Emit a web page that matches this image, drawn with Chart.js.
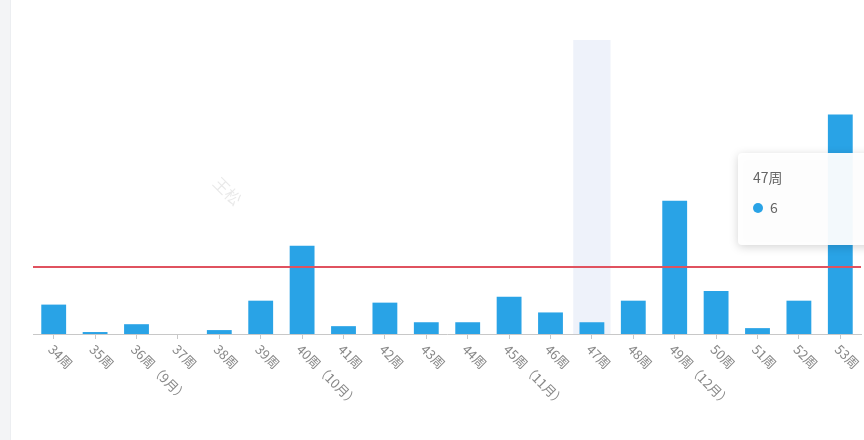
<!DOCTYPE html>
<html>
<head>
<meta charset="utf-8">
<script src="https://cdn.jsdelivr.net/npm/chart.js@4.4.0/dist/chart.umd.min.js"></script>
<style>
  html, body { margin: 0; padding: 0; background: #fff; }
  #wrap { position: relative; width: 864px; height: 440px; overflow: hidden; }
  #side { position: absolute; left: 0; top: 0; width: 10px; height: 440px; background: #f3f4f6; border-right: 1px solid #eceef1; }
  canvas { position: absolute; left: 0; top: 0; }
</style>
</head>
<body>
<div id="wrap">
  <div id="side"></div>
  <canvas id="weekly" width="864" height="440"></canvas>
</div>
<script>
const weeks = ["34周", "35周", "36周（9月）", "37周", "38周", "39周", "40周（10月）", "41周", "42周", "43周",
  "44周", "45周（11月）", "46周", "47周", "48周", "49周（12月）", "50周", "51周", "52周", "53周"];
const counts = [15, 1, 5, 0, 2, 17, 45, 4, 16, 6, 6, 19, 11, 6, 17, 68, 22, 3, 17, 112];
const targetValue = 34;
const yMax = 150;
const hoverIndex = 13;

// shadow behind the hovered category (like the axisPointer)
const hoverShadow = {
  id: 'hoverShadow',
  beforeDatasetsDraw(chart) {
    const { ctx, chartArea, scales: { x } } = chart;
    const w = (x.getPixelForValue(1) - x.getPixelForValue(0)) * 0.9;
    const cx = x.getPixelForValue(hoverIndex);
    ctx.save();
    ctx.fillStyle = '#eef2fa';
    ctx.fillRect(cx - w / 2, chartArea.top, w, chartArea.bottom - chartArea.top);
    ctx.restore();
  }
};

// red reference line
const targetLine = {
  id: 'targetLine',
  afterDatasetsDraw(chart) {
    const { ctx, chartArea, scales: { y } } = chart;
    const py = Math.round(y.getPixelForValue(targetValue));
    ctx.save();
    ctx.strokeStyle = '#e0525f';
    ctx.lineWidth = 2;
    ctx.beginPath();
    ctx.moveTo(chartArea.left, py);
    ctx.lineTo(chartArea.right, py);
    ctx.stroke();
    ctx.restore();
  }
};

// rotated week labels, starting at the tick and running down-right
const weekLabels = {
  id: 'weekLabels',
  afterDraw(chart) {
    const { ctx, scales: { x } } = chart;
    ctx.save();
    ctx.font = '13px "Noto Sans CJK SC", sans-serif';
    ctx.fillStyle = '#888';
    ctx.textAlign = 'left';
    ctx.textBaseline = 'middle';
    weeks.forEach((w, i) => {
      ctx.save();
      ctx.translate(x.getPixelForValue(i) - 3, x.top + 13);
      ctx.rotate(Math.PI / 4);
      ctx.fillText(w, 0, 0);
      ctx.restore();
    });

    // watermark fragment
    ctx.font = '16px "Noto Sans CJK SC", sans-serif';
    ctx.fillStyle = 'rgba(0,0,0,0.09)';
    ctx.save();
    ctx.translate(216, 180);
    ctx.rotate(Math.PI / 4);
    ctx.fillText('王松', 0, 0);
    ctx.restore();

    // tooltip box
    const tx = 738, ty = 153, tw = 140, th = 92;
    ctx.save();
    ctx.shadowColor = 'rgba(0,0,0,0.18)';
    ctx.shadowBlur = 10;
    ctx.shadowOffsetY = 2;
    ctx.fillStyle = 'rgba(255,255,255,0.95)';
    ctx.beginPath();
    ctx.roundRect(tx, ty, tw, th, 4);
    ctx.fill();
    ctx.restore();
    ctx.font = '14px "Noto Sans CJK SC", sans-serif';
    ctx.fillStyle = '#666';
    ctx.fillText(weeks[hoverIndex], tx + 15, ty + 25);
    ctx.fillStyle = '#29a3e6';
    ctx.beginPath();
    ctx.arc(tx + 20, ty + 55, 5, 0, Math.PI * 2);
    ctx.fill();
    ctx.fillStyle = '#666';
    ctx.fillText(String(counts[hoverIndex]), tx + 32, ty + 55);
    ctx.restore();
  }
};

new Chart(document.getElementById('weekly'), {
  type: 'bar',
  data: {
    labels: weeks,
    datasets: [{
      data: counts,
      backgroundColor: '#29a3e6',
      barPercentage: 0.6,
      categoryPercentage: 1
    }]
  },
  options: {
    responsive: false,
    animation: false,
    layout: { padding: { left: 33, right: 3, top: 40, bottom: 0 } },
    plugins: {
      legend: { display: false },
      tooltip: { enabled: false }
    },
    scales: {
      x: {
        afterFit(scale) { scale.height = 106; },
        grid: { drawOnChartArea: false, drawTicks: true, tickLength: 5, offset: false, color: '#c8c8c8' },
        border: { display: true, color: '#c8c8c8' },
        ticks: { display: false }
      },
      y: {
        display: false,
        min: 0,
        max: yMax
      }
    }
  },
  plugins: [hoverShadow, targetLine, weekLabels]
});
</script>
</body>
</html>
